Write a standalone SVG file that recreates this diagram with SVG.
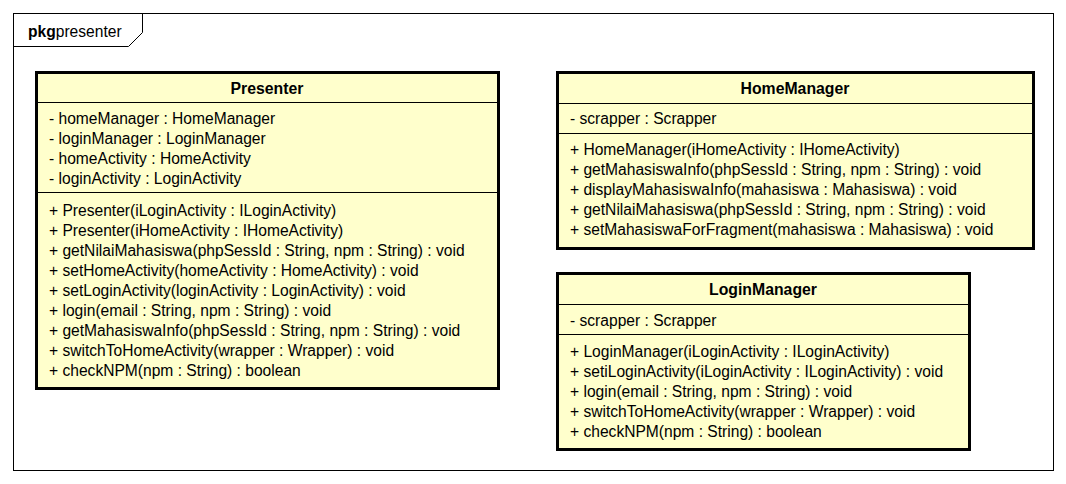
<svg xmlns="http://www.w3.org/2000/svg" width="1066" height="484" viewBox="0 0 1066 484">
<style>
text{font-family:"Liberation Sans",Arial,sans-serif;font-size:15.6px;fill:#000}
.t{font-weight:bold;text-anchor:middle;font-size:15.8px}
.box{fill:#FFFFCC;stroke:#000;stroke-width:3}
.div{stroke:#000;stroke-width:1}
.frame{fill:none;stroke:#000;stroke-width:1}
</style>
<rect width="1066" height="484" fill="#fff"/>
<g id="package">
<rect class="frame" x="13.5" y="13.5" width="1040" height="457"/>
<path class="frame" d="M13.5 46.5 H128.5 L142.5 32.5 V13.5"/>
<text x="28" y="37"><tspan font-weight="bold">pkg</tspan>presenter</text>
</g>
<g id="Presenter">
<rect class="box" x="36.5" y="72.5" width="462" height="316"/>
<line class="div" x1="36" y1="102.5" x2="499" y2="102.5"/>
<line class="div" x1="36" y1="192.5" x2="499" y2="192.5"/>
<text class="t" x="267" y="94">Presenter</text>
<text x="49" y="124">- homeManager : HomeManager</text>
<text x="49" y="144">- loginManager : LoginManager</text>
<text x="49" y="164">- homeActivity : HomeActivity</text>
<text x="49" y="184">- loginActivity : LoginActivity</text>
<text x="49" y="216">+ Presenter(iLoginActivity : ILoginActivity)</text>
<text x="49" y="236">+ Presenter(iHomeActivity : IHomeActivity)</text>
<text x="49" y="256">+ getNilaiMahasiswa(phpSessId : String, npm : String) : void</text>
<text x="49" y="276">+ setHomeActivity(homeActivity : HomeActivity) : void</text>
<text x="49" y="296">+ setLoginActivity(loginActivity : LoginActivity) : void</text>
<text x="49" y="316">+ login(email : String, npm : String) : void</text>
<text x="49" y="336">+ getMahasiswaInfo(phpSessId : String, npm : String) : void</text>
<text x="49" y="356">+ switchToHomeActivity(wrapper : Wrapper) : void</text>
<text x="49" y="376">+ checkNPM(npm : String) : boolean</text>
</g>
<g id="HomeManager">
<rect class="box" x="557.5" y="72.5" width="476" height="176"/>
<line class="div" x1="557" y1="103.5" x2="1034" y2="103.5"/>
<line class="div" x1="557" y1="133.5" x2="1034" y2="133.5"/>
<text class="t" x="795" y="94">HomeManager</text>
<text x="570" y="124">- scrapper : Scrapper</text>
<text x="570" y="155">+ HomeManager(iHomeActivity : IHomeActivity)</text>
<text x="570" y="175">+ getMahasiswaInfo(phpSessId : String, npm : String) : void</text>
<text x="570" y="195">+ displayMahasiswaInfo(mahasiswa : Mahasiswa) : void</text>
<text x="570" y="215">+ getNilaiMahasiswa(phpSessId : String, npm : String) : void</text>
<text x="570" y="235">+ setMahasiswaForFragment(mahasiswa : Mahasiswa) : void</text>
</g>
<g id="LoginManager">
<rect class="box" x="557.5" y="273.5" width="412" height="176"/>
<line class="div" x1="557" y1="304.5" x2="970" y2="304.5"/>
<line class="div" x1="557" y1="334.5" x2="970" y2="334.5"/>
<text class="t" x="763" y="295">LoginManager</text>
<text x="570" y="326">- scrapper : Scrapper</text>
<text x="570" y="357">+ LoginManager(iLoginActivity : ILoginActivity)</text>
<text x="570" y="377">+ setiLoginActivity(iLoginActivity : ILoginActivity) : void</text>
<text x="570" y="397">+ login(email : String, npm : String) : void</text>
<text x="570" y="417">+ switchToHomeActivity(wrapper : Wrapper) : void</text>
<text x="570" y="437">+ checkNPM(npm : String) : boolean</text>
</g>
<g id="connectors"/>
</svg>
